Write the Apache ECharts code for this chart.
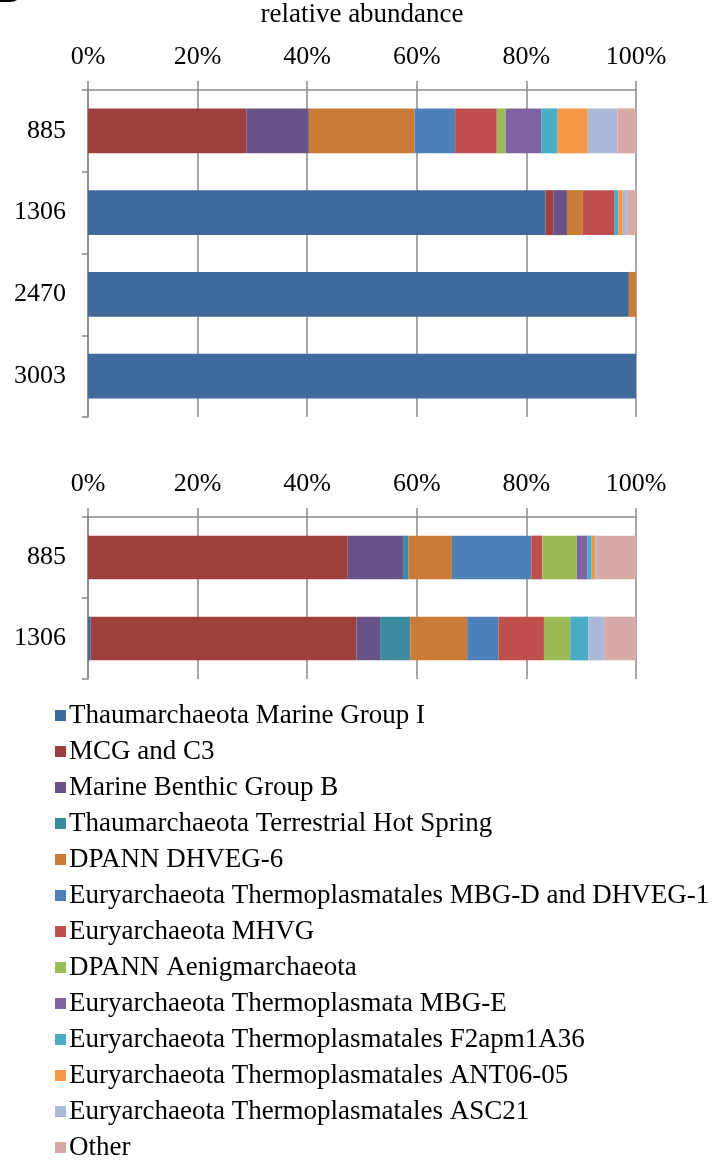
<!DOCTYPE html>
<html>
<head>
<meta charset="utf-8">
<script src="https://cdn.jsdelivr.net/npm/echarts@6/dist/echarts.min.js"></script>
<style>
html,body{margin:0;padding:0;background:#fff;}
#chart{width:716px;height:1160px;}
</style>
</head>
<body>
<div id="chart"></div>
<script>
const categoriesTop = ['885', '1306', '2470', '3003'];
const categoriesBottom = ['885', '1306'];
const xTickValues = [0, 20, 40, 60, 80, 100];

const seriesNames = [
  'Thaumarchaeota Marine Group I',
  'MCG and C3',
  'Marine Benthic Group B',
  'Thaumarchaeota Terrestrial Hot Spring',
  'DPANN DHVEG-6',
  'Euryarchaeota Thermoplasmatales MBG-D and DHVEG-1',
  'Euryarchaeota MHVG',
  'DPANN Aenigmarchaeota',
  'Euryarchaeota Thermoplasmata MBG-E',
  'Euryarchaeota Thermoplasmatales F2apm1A36',
  'Euryarchaeota Thermoplasmatales ANT06-05',
  'Euryarchaeota Thermoplasmatales ASC21',
  'Other'
];

const seriesColors = [
  '#406a9b', '#9e413e', '#6a5187', '#3c8aa0', '#cb7b38', '#4e80ba', '#c0504d',
  '#9bbb59', '#8064a2', '#4bacc6', '#f79646', '#aab9d7', '#d9a9a8'
];

// values in %, per series, for categoriesTop (885, 1306, 2470, 3003)
const thaumMG1Top   = [0, 83.5, 98.7, 100];
const mcgTop        = [28.9, 1.4, 0, 0];
const mbgBTop       = [11.4, 2.5, 0, 0];
const thsTop        = [0, 0, 0, 0];
const dhveg6Top     = [19.3, 2.9, 1.3, 0];
const mbgDTop       = [7.4, 0, 0, 0];
const mhvgTop       = [7.6, 5.7, 0, 0];
const aenigTop      = [1.6, 0, 0, 0];
const mbgETop       = [6.5, 0, 0, 0];
const f2apmTop      = [3.0, 0.8, 0, 0];
const ant0605Top    = [5.5, 0.8, 0, 0];
const asc21Top      = [5.4, 0.8, 0, 0];
const otherTop      = [3.4, 1.6, 0, 0];

// values in %, per series, for categoriesBottom (885, 1306)
const thaumMG1Bot   = [0, 0.5];
const mcgBot        = [47.4, 48.5];
const mbgBBot       = [10.1, 4.3];
const thsBot        = [1.0, 5.5];
const dhveg6Bot     = [7.9, 10.4];
const mbgDBot       = [14.5, 5.7];
const mhvgBot       = [2.0, 8.3];
const aenigBot      = [6.3, 4.8];
const mbgEBot       = [1.9, 0];
const f2apmBot      = [0.8, 3.3];
const ant0605Bot    = [0.7, 0];
const asc21Bot      = [0.3, 2.9];
const otherBot      = [7.1, 5.8];

const topValues = [thaumMG1Top, mcgTop, mbgBTop, thsTop, dhveg6Top, mbgDTop, mhvgTop,
  aenigTop, mbgETop, f2apmTop, ant0605Top, asc21Top, otherTop];
const bottomValues = [thaumMG1Bot, mcgBot, mbgBBot, thsBot, dhveg6Bot, mbgDBot, mhvgBot,
  aenigBot, mbgEBot, f2apmBot, ant0605Bot, asc21Bot, otherBot];

const FONT = "'Liberation Serif', 'Times New Roman', serif";
const GRID_COLOR = '#8a8a8a';

function xAxisCfg(gridIndex, withName) {
  return {
    type: 'value', gridIndex: gridIndex, position: 'top',
    min: xTickValues[0], max: xTickValues[xTickValues.length - 1],
    interval: xTickValues[1] - xTickValues[0],
    name: withName ? 'relative abundance' : '',
    nameLocation: 'middle', nameGap: 62,
    nameTextStyle: { fontFamily: FONT, fontSize: 27, color: '#000' },
    axisLine: { show: true, lineStyle: { color: GRID_COLOR, width: 1.5 } },
    axisTick: { show: true, length: 9, lineStyle: { color: GRID_COLOR, width: 1.5 } },
    axisLabel: { formatter: '{value}%', fontFamily: FONT, fontSize: 26, color: '#000', margin: 20 },
    splitLine: { show: true, lineStyle: { color: GRID_COLOR, width: 1.5 } }
  };
}
function yAxisCfg(gridIndex, cats) {
  return {
    type: 'category', gridIndex: gridIndex, data: cats, inverse: true,
    axisLine: { show: true, lineStyle: { color: GRID_COLOR, width: 1.5 } },
    axisTick: { show: true, length: 6, lineStyle: { color: GRID_COLOR, width: 1.5 } },
    axisLabel: { fontFamily: FONT, fontSize: 26, color: '#000', margin: 22 }
  };
}

const series = [];
seriesNames.forEach(function (name, i) {
  series.push({
    name: name, type: 'bar', stack: 'top', xAxisIndex: 0, yAxisIndex: 0,
    barCategoryGap: '45%', data: topValues[i], itemStyle: { color: seriesColors[i] },
    emphasis: { disabled: true }
  });
});
seriesNames.forEach(function (name, i) {
  series.push({
    name: name, type: 'bar', stack: 'bot', xAxisIndex: 1, yAxisIndex: 1,
    barCategoryGap: '46%', data: bottomValues[i], itemStyle: { color: seriesColors[i] },
    emphasis: { disabled: true }
  });
});

const chart = echarts.init(document.getElementById('chart'), null, { renderer: 'canvas' });
chart.setOption({
  animation: false,
  color: seriesColors,
  textStyle: { fontFamily: FONT },
  grid: [
    { left: 88, width: 548, top: 82, height: 335 },
    { left: 88, width: 548, top: 517, height: 162 }
  ],
  xAxis: [xAxisCfg(0, true), xAxisCfg(1, false)],
  yAxis: [yAxisCfg(0, categoriesTop), yAxisCfg(1, categoriesBottom)],
  legend: {
    orient: 'vertical', left: 50, top: 697, height: 460,
    itemWidth: 11, itemHeight: 11, itemGap: 9,
    icon: 'rect',
    data: seriesNames,
    textStyle: { fontFamily: FONT, fontSize: 27, color: '#000', padding: [0, 0, 0, -2] }
  },
  graphic: [
    { type: 'text', left: -6, top: -27, style: { text: 'B', font: 'bold 38px "Liberation Sans", Arial, sans-serif', fill: '#000' } }
  ],
  series: series
});
</script>
</body>
</html>
